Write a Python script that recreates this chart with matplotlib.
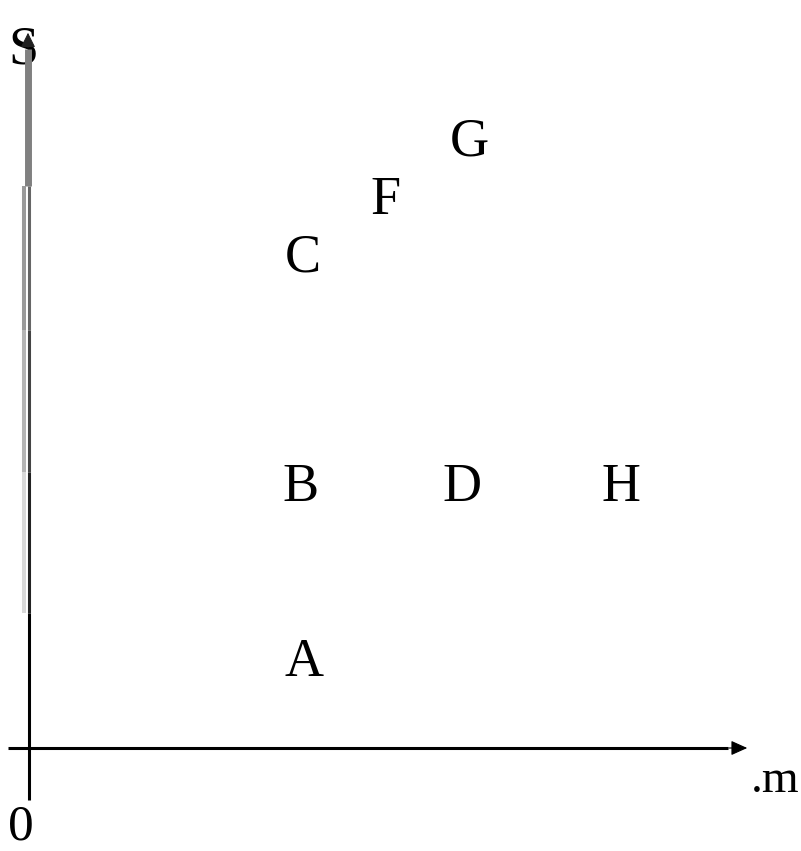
import numpy as np
import matplotlib.pyplot as plt
import matplotlib.transforms as mtransforms

# point labels and positions (units: m along x, S along y)
labels = ["A", "B", "C", "D", "F", "G", "H"]
m_vals = [2.76, 2.72, 2.75, 4.34, 3.58, 4.41, 5.93]
s_vals = [0.90, 2.65, 4.94, 2.65, 5.52, 6.10, 2.65]

FONT = "Liberation Serif"
FS = 39


def main():
    fig = plt.figure(figsize=(8.01, 8.51), dpi=100)
    ax = fig.add_axes([0, 0, 1, 1])
    ax.set_xlim(-0.28, 7.73)
    ax.set_ylim(-1.03, 7.48)
    ax.axis("off")

    px = 0.01  # one pixel in data units
    # x axis with arrow
    ax.plot([-0.20, 7.0], [0, 0], color="black", lw=2.2, solid_capstyle="butt")
    ax.annotate("", xy=(7.22, 0), xytext=(6.98, 0),
                arrowprops=dict(arrowstyle="-|>,head_length=1.0,head_width=0.45",
                                color="black", lw=0.8))
    # y axis: faded segments like the original bitmap
    xl, xr = -4 * px, 0.5 * px
    ax.plot([0, 0], [5.62, 6.99], color="#808080", lw=5.0, solid_capstyle="butt")
    segs = [(4.18, 5.62, "#9a9a9a", "#666666"),
            (2.76, 4.18, "#b4b4b4", "#444444"),
            (1.35, 2.76, "#d8d8d8", "#222222")]
    for y0, y1, cl, cr in segs:
        ax.plot([xl, xl], [y0, y1], color=cl, lw=2.9, solid_capstyle="butt")
        ax.plot([xr, xr], [y0, y1], color=cr, lw=2.2, solid_capstyle="butt")
    ax.plot([xr, xr], [-0.52, 1.35], color="black", lw=2.2, solid_capstyle="butt")

    # labels centred on their points (shift baseline down half a cap height)
    shift = mtransforms.ScaledTranslation(0, -18 / 100, fig.dpi_scale_trans)
    for lab, m, s in zip(labels, m_vals, s_vals):
        ax.text(m, s, lab, family=FONT, fontsize=FS, ha="center", va="baseline",
                transform=ax.transData + shift)

    ax.text(-0.05, 7.02, "S", family=FONT, fontsize=FS, ha="center",
            va="baseline", transform=ax.transData + shift, zorder=1)
    ax.annotate("", xy=(0, 7.18), xytext=(0, 6.98),
                arrowprops=dict(arrowstyle="-|>,head_length=0.9,head_width=0.45",
                                color="#202020", lw=0.8), zorder=3)
    ax.text(7.23, -0.44, ".m", family=FONT, fontsize=34, ha="left", va="baseline")
    ax.text(-0.07, -0.73, "0", family=FONT, fontsize=37, ha="center",
            va="baseline", transform=ax.transData + shift)

    fig.savefig("out.png", dpi=100)


if __name__ == "__main__":
    main()
